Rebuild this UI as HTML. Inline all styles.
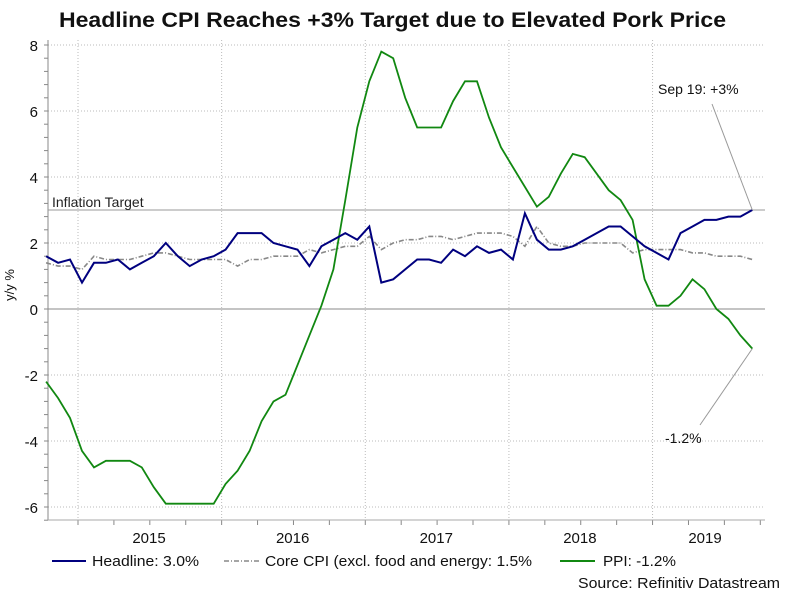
<!DOCTYPE html>
<html><head><meta charset="utf-8"><style>
body{margin:0;background:#fff;font-family:"Liberation Sans",sans-serif}
</style></head><body>
<svg width="786" height="594" xmlns="http://www.w3.org/2000/svg" font-family="Liberation Sans, sans-serif">
<text x="59" y="27" font-size="21" font-weight="bold" fill="#111" textLength="667" lengthAdjust="spacingAndGlyphs">Headline CPI Reaches +3% Target due to Elevated Pork Price</text>
<g id="grid"></g>
<g id="axes"></g>
<g id="series"></g>
<text x="52" y="207" font-size="14" fill="#222">Inflation Target</text>
<text x="658" y="94" font-size="14" fill="#111">Sep 19: +3%</text>
<text x="665" y="443" font-size="14" fill="#111">-1.2%</text>
<text transform="translate(14,285) rotate(-90)" text-anchor="middle" font-size="13" fill="#111">y/y %</text>
<g font-size="15" fill="#111">
<line x1="52" y1="561" x2="86" y2="561" stroke="#00007f" stroke-width="2"/>
<text x="92" y="566" textLength="107" lengthAdjust="spacingAndGlyphs">Headline: 3.0%</text>
<line x1="224" y1="561" x2="259" y2="561" stroke="#888" stroke-width="1.5" stroke-dasharray="5,2,1,2"/>
<text x="265" y="566" textLength="267" lengthAdjust="spacingAndGlyphs">Core CPI (excl. food and energy: 1.5%</text>
<line x1="560" y1="561" x2="595" y2="561" stroke="#118811" stroke-width="2"/>
<text x="603" y="566" textLength="73" lengthAdjust="spacingAndGlyphs">PPI: -1.2%</text>
</g>
<text x="578" y="588" font-size="15" fill="#111" textLength="202" lengthAdjust="spacingAndGlyphs">Source: Refinitiv Datastream</text>
</svg>
<script>
const startMonth=-3; // Oct 2014 relative to Jan 2015
const headline=[1.6,1.4,1.5,0.8,1.4,1.4,1.5,1.2,1.4,1.6,2.0,1.6,1.3,1.5,1.6,1.8,2.3,2.3,2.3,2.0,1.9,1.8,1.3,1.9,2.1,2.3,2.1,2.5,0.8,0.9,1.2,1.5,1.5,1.4,1.8,1.6,1.9,1.7,1.8,1.5,2.9,2.1,1.8,1.8,1.9,2.1,2.3,2.5,2.5,2.2,1.9,1.7,1.5,2.3,2.5,2.7,2.7,2.8,2.8,3.0];
const core=[1.4,1.3,1.3,1.2,1.6,1.5,1.5,1.5,1.6,1.7,1.7,1.6,1.5,1.5,1.5,1.5,1.3,1.5,1.5,1.6,1.6,1.6,1.8,1.7,1.8,1.9,1.9,2.2,1.8,2.0,2.1,2.1,2.2,2.2,2.1,2.2,2.3,2.3,2.3,2.2,1.9,2.5,2.0,1.9,1.9,2.0,2.0,2.0,2.0,1.7,1.8,1.8,1.8,1.8,1.7,1.7,1.6,1.6,1.6,1.5];
const ppi=[-2.2,-2.7,-3.3,-4.3,-4.8,-4.6,-4.6,-4.6,-4.8,-5.4,-5.9,-5.9,-5.9,-5.9,-5.9,-5.3,-4.9,-4.3,-3.4,-2.8,-2.6,-1.7,-0.8,0.1,1.2,3.3,5.5,6.9,7.8,7.6,6.4,5.5,5.5,5.5,6.3,6.9,6.9,5.8,4.9,4.3,3.7,3.1,3.4,4.1,4.7,4.6,4.1,3.6,3.3,2.7,0.9,0.1,0.1,0.4,0.9,0.6,0.0,-0.3,-0.8,-1.2];
const yTicks=[8,6,4,2,0,-2,-4,-6];
const years=["2015","2016","2017","2018","2019"];
const target=3;
const NS="http://www.w3.org/2000/svg";
const X0=48,X1=765,Y0=40,Y1=520;
const xs=m=>82+11.97*m;
const ys=v=>45+(8-v)*33;
function mk(t,a,p){const e=document.createElementNS(NS,t);for(const k in a)e.setAttribute(k,a[k]);p.appendChild(e);return e;}
const grid=document.getElementById('grid'),axes=document.getElementById('axes'),ser=document.getElementById('series');
yTicks.forEach(v=>{
 const l=mk('line',{x1:X0,x2:X1,y1:ys(v),y2:ys(v),stroke:'#bbb','stroke-dasharray':'1,2'},grid);
 
 
 const t=mk('text',{x:38,y:ys(v)+6,'text-anchor':'end','font-size':15,fill:'#111'},axes);t.textContent=v;
 
 
});
for(let v=-6.4;v<=8.01;v+=0.4){mk('line',{x1:X0-4,x2:X0,y1:ys(v),y2:ys(v),stroke:'#888'},axes);}
years.forEach((y,i)=>{
 const gx=xs(i*12)-4;
 const l=mk('line',{x1:gx,x2:gx,y1:Y0,y2:Y1,stroke:'#bbb','stroke-dasharray':'1,2'},grid);
 
 
 const t=mk('text',{x:i===4?705:gx+71,y:543,'text-anchor':'middle','font-size':15,fill:'#111'},axes);t.textContent=y;
 
 
});
for(let m=-3;m<=57;m+=3){const x=xs(m)-4;if(x>=X0&&x<=X1)mk('line',{x1:x,x2:x,y1:Y1,y2:Y1+5,stroke:'#888'},axes);}
mk('line',{x1:X0,x2:X0,y1:Y0,y2:Y1,stroke:'#888'},axes);
mk('line',{x1:X0,x2:X1,y1:Y1,y2:Y1,stroke:'#aaa'},axes);
const z=mk('line',{x1:X0,x2:X1,y1:ys(0),y2:ys(0),stroke:'#888'},axes);


const tg=mk('line',{x1:X0,x2:X1,y1:ys(target),y2:ys(target),stroke:'#999'},axes);


function pts(a){return a.map((v,i)=>xs(startMonth+i).toFixed(1)+','+ys(v).toFixed(1)).join(' ');}
const pc=mk('polyline',{points:pts(core),fill:'none',stroke:'#888','stroke-width':1.6,'stroke-dasharray':'5,2,1,2'},ser);


const pp=mk('polyline',{points:pts(ppi),fill:'none',stroke:'#118811','stroke-width':1.8},ser);


const ph=mk('polyline',{points:pts(headline),fill:'none',stroke:'#00007f','stroke-width':2},ser);


const last=startMonth+headline.length-1;
const a1=mk('line',{x1:712,y1:104,x2:xs(last),y2:ys(headline[headline.length-1]),stroke:'#999'},ser);


const a2=mk('line',{x1:700,y1:425,x2:xs(last),y2:ys(ppi[ppi.length-1]),stroke:'#999'},ser);


</script>
</body></html>
